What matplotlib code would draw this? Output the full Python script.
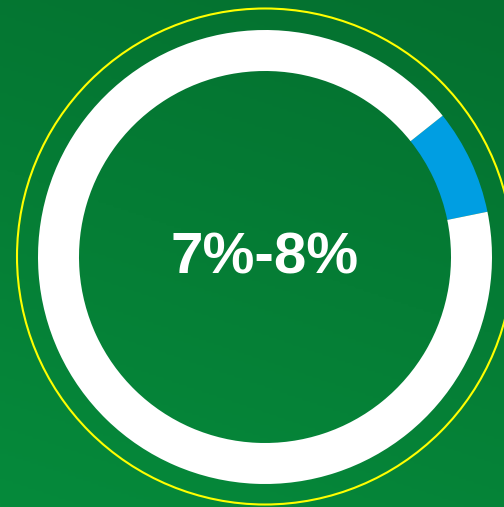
import numpy as np
import matplotlib.pyplot as plt
from matplotlib.colors import LinearSegmentedColormap
from matplotlib.patches import Circle

# donut data: blue share vs rest (percent)
labels = ['7%-8%', 'rest']
values = [7.5, 92.5]
colors = ['#009EE2', '#FFFFFF']
center_text = '7%-8%'

W, H = 504, 507
fig = plt.figure(figsize=(W / 100, H / 100), dpi=100)
ax = fig.add_axes([0, 0, 1, 1])

# green gradient background, darker top-right -> lighter bottom-left
yy, xx = np.mgrid[0:1:200j, 0:1:200j]
grad = (yy * 0.75 + (1 - xx) * 0.25)
cmap = LinearSegmentedColormap.from_list('bg', ['#04702F', '#068A3B'])
ax.imshow(grad, cmap=cmap, extent=(0, W, 0, H), origin='upper',
          aspect='auto', zorder=0)

cx, cy = 265, H - 257
ax.pie(values, colors=colors, startangle=11.5, counterclock=True,
       radius=227, center=(cx, cy),
       wedgeprops=dict(width=41, linewidth=0))

ax.add_patch(Circle((cx, H - 256.5), 248, fill=False,
                    edgecolor='#FFFF00', linewidth=1.5, zorder=3))

ax.text(cx, cy - 2, center_text, ha='center', va='center', color='white',
        fontsize=42, fontweight='bold', family='Liberation Sans', zorder=4)

ax.set_xlim(0, W)
ax.set_ylim(0, H)
ax.axis('off')
fig.savefig('out.png', dpi=100)
